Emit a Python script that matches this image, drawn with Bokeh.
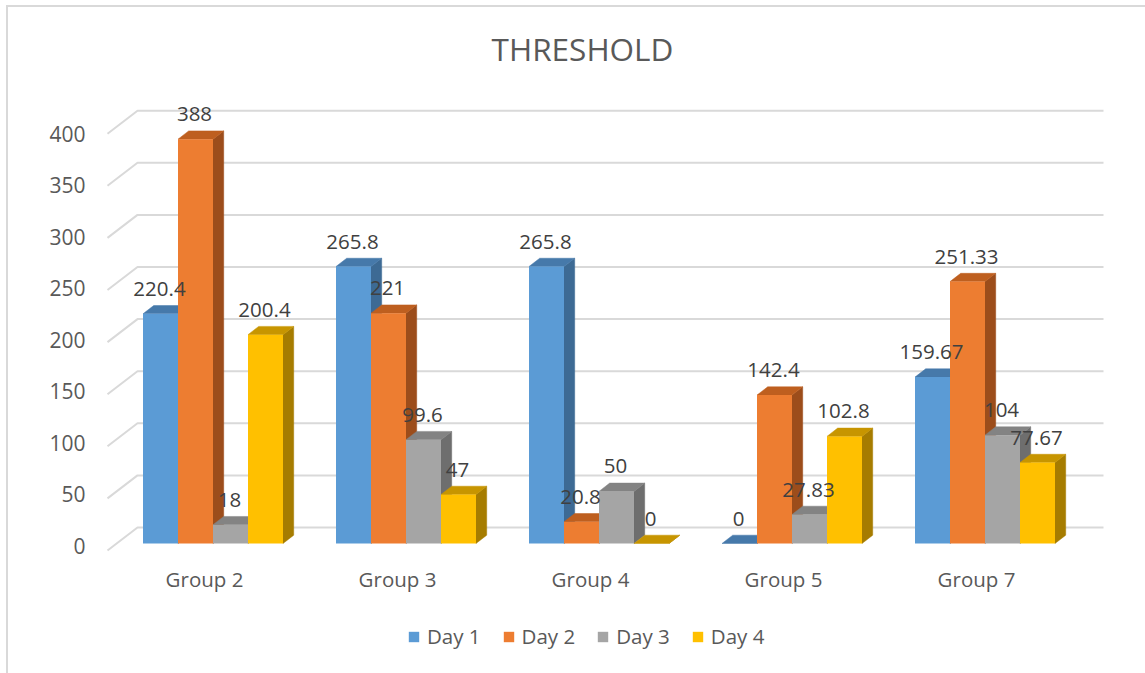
from bokeh.plotting import figure
from bokeh.models import (Range1d, LinearAxis, FixedTicker, Legend, LegendItem,
                          Label, ColumnDataSource)
from bokeh.core.properties import value
from bokeh.embed import file_html
from bokeh.resources import INLINE

# ---------------- data ----------------
groups = ["Group 2", "Group 3", "Group 4", "Group 5", "Group 7"]
days = ["Day 1", "Day 2", "Day 3", "Day 4"]
day1 = [220.4, 265.8, 265.8, 0, 159.67]
day2 = [388, 221, 20.8, 142.4, 251.33]
day3 = [18, 99.6, 50, 27.83, 104]
day4 = [200.4, 47, 0, 102.8, 77.67]
y_ticks = [0, 50, 100, 150, 200, 250, 300, 350, 400]
title_text = "THRESHOLD"

series = [day1, day2, day3, day4]

# ---------------- style ----------------
front_colors = ["#5B9BD5", "#ED7D31", "#A5A5A5", "#FFC000"]
top_colors = ["#4679AA", "#BE5F1F", "#838383", "#C79500"]
side_colors = ["#3D6A94", "#9C4D1B", "#6E6E6E", "#A67C00"]
FONT = "Open Sans"
TXT = "#595959"
GRID = "#D9D9D9"

W, H = 1145, 673
OX, OY = 8, 7                             # canvas origin on the page (after CSS border)
FL, FR, FT, FB = 100, 1110, OY, H         # frame edges in page px
PX_X = 193.0                              # px per group
PX_Y = 1.042                              # px per value unit
X0_PX = 212.5                             # px of first group's bar centre
Y0_PX = 543.0                             # px of value 0 on the front plane

BW = 35.0 / PX_X                          # bar width
DX = 10.7 / PX_X                          # bar depth (x)
DY = 8.3 / PX_Y                           # bar depth (y)

x_range = Range1d((FL - X0_PX) / PX_X, (FR - X0_PX) / PX_X)
y_range = Range1d(-(FB - Y0_PX) / PX_Y, (Y0_PX - FT) / PX_Y)

p = figure(frame_width=FR - FL, frame_height=FB - FT, x_range=x_range, y_range=y_range,
           min_border_left=FL - OX, min_border_right=W - FR,
           min_border_top=0, min_border_bottom=0,
           x_axis_location=None, y_axis_location=None,
           output_backend="svg", toolbar_location=None)
p.styles = {"margin-left": "6px", "margin-top": "5px",
            "border-left": "2px solid #D9D9D9", "border-top": "2px solid #D9D9D9"}
p.xgrid.visible = False
p.ygrid.visible = False
p.outline_line_color = None
p.background_fill_color = "white"
p.border_fill_color = "white"

# ---------------- value axis ----------------
AX0_PX, AX_K = 545.0, 1.03
p.extra_y_ranges = {"ax": Range1d(-(FB - AX0_PX) / AX_K, (AX0_PX - FT) / AX_K)}
yax = LinearAxis(y_range_name="ax", ticker=FixedTicker(ticks=y_ticks))
yax.axis_line_color = None
yax.major_tick_line_color = None
yax.minor_tick_line_color = None
yax.major_tick_out = 0
yax.major_tick_in = 0
yax.major_label_text_font = FONT
yax.major_label_text_color = TXT
yax.major_label_text_font_size = "21px"
yax.major_label_standoff = 15
p.add_layout(yax, "left")

# ---------------- category labels (front floor edge) ----------------
cat_dx = (204.0 - X0_PX) / PX_X
cat_y = (Y0_PX - 578.5) / PX_Y
p.text([i + cat_dx for i in range(len(groups))], [cat_y] * len(groups), text=groups,
       text_align="center", text_baseline="middle", text_font=value(FONT),
       text_font_size="20.5px", text_color=TXT)

# ---------------- 3D gridlines (back wall + floor diagonals) ----------------
gx_front = (107 - X0_PX) / PX_X
gx_back = (137 - X0_PX) / PX_X
gx_end = (1103 - X0_PX) / PX_X
back_off = 16 / PX_Y
front_off = -7 / PX_Y
xs_g, ys_g = [], []
for v in y_ticks:
    xs_g.append([gx_front, gx_back, gx_end])
    ys_g.append([v + front_off, v + back_off, v + back_off])
p.multi_line(xs_g, ys_g, line_color=GRID, line_width=2)

# ---------------- bars ----------------
side_xs, side_ys, side_c = [], [], []
top_xs, top_ys, top_c = [], [], []
lab_x, lab_y, lab_t = [], [], []
for g in range(len(groups)):
    for s, vals in enumerate(series):
        v = vals[g]
        xc = g + (s - 1.5) * BW
        l, r = xc - BW / 2, xc + BW / 2
        side_xs.append([r, r + DX, r + DX, r])
        side_ys.append([0, DY, v + DY, v])
        side_c.append(side_colors[s])
        top_xs.append([l, r, r + DX, l + DX])
        top_ys.append([v, v, v + DY, v + DY])
        top_c.append(top_colors[s])
        lab_x.append(xc - 1 / PX_X)
        lab_y.append(v + 25 / PX_Y)
        lab_t.append(f"{v:g}")

p.patches(side_xs, side_ys, fill_color=side_c, line_color=side_c, line_width=0.5)
p.patches(top_xs, top_ys, fill_color=top_c, line_color=top_c, line_width=0.5)

front_renderers = []
for s, vals in enumerate(series):
    src = ColumnDataSource(dict(x=[g + (s - 1.5) * BW for g in range(len(groups))], top=vals))
    r = p.vbar(x="x", top="top", bottom=0, width=BW, source=src,
               fill_color=front_colors[s], line_color=None)
    front_renderers.append(r)

p.text(lab_x, lab_y, text=lab_t, text_align="center", text_baseline="middle",
       text_font=value(FONT), text_font_size="20.5px", text_color="#404040")

# ---------------- legend ----------------
legend = Legend(items=[LegendItem(label=d, renderers=[front_renderers[i]]) for i, d in enumerate(days)],
                orientation="horizontal", location=(407 - FL, FB - 650),
                glyph_width=13, glyph_height=13, label_standoff=7, spacing=21,
                padding=0, margin=0, border_line_color=None, background_fill_alpha=0,
                label_text_font=FONT, label_text_font_size="20.5px", label_text_color=TXT)
p.add_layout(legend)

# ---------------- title ----------------
p.add_layout(Label(x=582 - FL, y=FB - 48, x_units="screen", y_units="screen", text=title_text,
                   text_align="center", text_baseline="middle", text_font=FONT,
                   text_font_size="31.5px", text_color=TXT))

open("out.html", "w").write(file_html(p, INLINE))
